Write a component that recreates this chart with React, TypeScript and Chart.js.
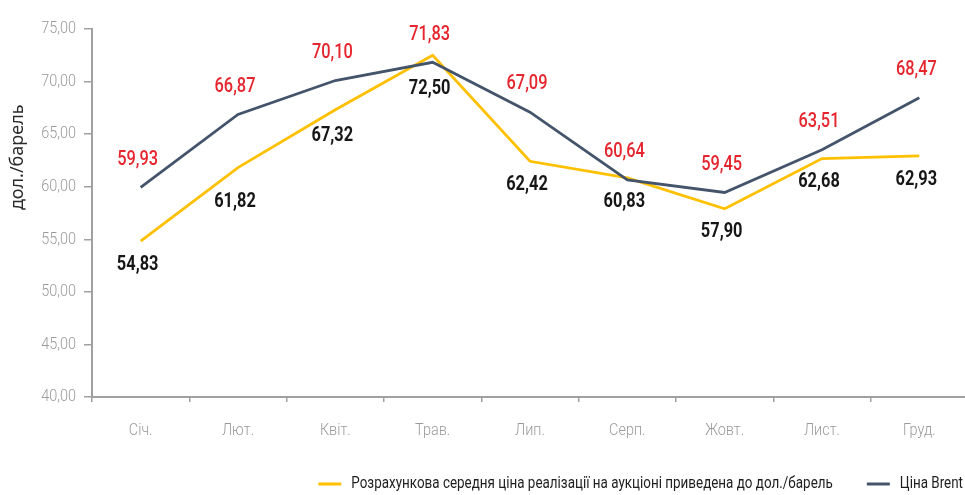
import React, { useEffect, useRef } from "react";
import { Chart, registerables } from "chart.js";

Chart.register(...registerables);

// ---- data ----
const months = ["Січ.", "Лют.", "Квіт.", "Трав.", "Лип.", "Серп.", "Жовт.", "Лист.", "Груд."];
const auctionPrice = [54.83, 61.82, 67.32, 72.5, 62.42, 60.83, 57.9, 62.68, 62.93];
const brentPrice = [59.93, 66.87, 70.1, 71.83, 67.09, 60.64, 59.45, 63.51, 68.47];
const auctionLabel = "Розрахункова середня ціна реалізації на аукціоні приведена до дол./барель";
const brentLabel = "Ціна Brent";
const yTitle = "дол./барель";
const yMin = 40;
const yMax = 75;
const yStep = 5;

// ---- styles ----
const FONT = "Roboto, 'Noto Sans', sans-serif";
const YELLOW = "#FFC000";
const NAVY = "#44546A";
const RED = "#E5262F";
const GRAY = "#A0A0A0";
const TICKTEXT = "#9A9A9A";
const auctionLabelDy = [24, 34, 26, 33, 23, 24, 23, 23, 24];
const brentLabelDy = -28;
const LABEL_SX = 0.78;
const TICK_SX = 0.85;
const LEGEND_SX = 0.79;

const fmt = (v: number) => v.toFixed(2).replace(".", ",");

function drawCond(ctx: CanvasRenderingContext2D, text: string, x: number, y: number, sx: number, align: CanvasTextAlign) {
  ctx.save();
  ctx.translate(x, y);
  ctx.scale(sx, 1);
  ctx.textAlign = align;
  ctx.textBaseline = "middle";
  ctx.fillText(text, 0, 0);
  ctx.restore();
}

const valueLabels = {
  id: "valueLabels",
  afterDatasetsDraw(chart: any) {
    const ctx = chart.ctx as CanvasRenderingContext2D;
    chart.data.datasets.forEach((ds: any, di: number) => {
      const meta = chart.getDatasetMeta(di);
      meta.data.forEach((pt: any, i: number) => {
        const v = ds.data[i] as number;
        if (di === 0) {
          ctx.font = `700 21px ${FONT}`;
          ctx.fillStyle = "#161616";
          drawCond(ctx, fmt(v), pt.x - 3, pt.y + auctionLabelDy[i], LABEL_SX, "center");
        } else {
          ctx.font = `500 21px ${FONT}`;
          ctx.fillStyle = RED;
          drawCond(ctx, fmt(v), pt.x - 3, pt.y + brentLabelDy, LABEL_SX, "center");
        }
      });
    });
  },
};

const axisText = {
  id: "axisText",
  afterDraw(chart: any) {
    const ctx = chart.ctx as CanvasRenderingContext2D;
    const xs = chart.scales.x;
    const ys = chart.scales.y;
    ctx.save();
    ctx.fillStyle = TICKTEXT;
    ctx.font = `300 17px ${FONT}`;
    ys.ticks.forEach((t: any, i: number) => {
      drawCond(ctx, fmt(Number(t.value)), ys.right - 16, ys.getPixelForTick(i), TICK_SX, "right");
    });
    xs.ticks.forEach((t: any, i: number) => {
      drawCond(ctx, String(chart.data.labels[i]), xs.getPixelForTick(i), xs.top + 34, TICK_SX, "center");
    });
    // y title
    ctx.fillStyle = "#2a2a2a";
    ctx.font = `18px 'Noto Sans', sans-serif`;
    ctx.translate(17.5, ys.getPixelForValue(62.8));
    ctx.rotate(-Math.PI / 2);
    ctx.textAlign = "center";
    ctx.textBaseline = "middle";
    ctx.fillText(yTitle, 0, 0);
    ctx.restore();
  },
};

const bottomLegend = {
  id: "bottomLegend",
  afterDraw(chart: any) {
    const ctx = chart.ctx as CanvasRenderingContext2D;
    const area = chart.chartArea;
    ctx.save();
    ctx.font = `400 17px ${FONT}`;
    const lineW = 23;
    const gapLT = 10;
    const gapItems = 34;
    const items = chart.data.datasets.map((ds: any) => ({
      text: ds.label as string,
      color: ds.borderColor as string,
      w: ctx.measureText(ds.label).width * LEGEND_SX,
    }));
    let total = 0;
    items.forEach((it: any, i: number) => {
      total += lineW + gapLT + it.w + (i < items.length - 1 ? gapItems : 0);
    });
    let x = area.right - 5 - total;
    const y = chart.height - 11;
    items.forEach((it: any) => {
      ctx.strokeStyle = it.color;
      ctx.lineWidth = 3;
      ctx.beginPath();
      ctx.moveTo(x, y);
      ctx.lineTo(x + lineW, y);
      ctx.stroke();
      x += lineW + gapLT;
      ctx.fillStyle = "#1e1e1e";
      drawCond(ctx, it.text, x, y, LEGEND_SX, "left");
      x += it.w + gapItems;
    });
    ctx.restore();
  },
};

export default function App() {
  const ref = useRef<HTMLCanvasElement | null>(null);
  useEffect(() => {
    document.body.style.margin = "0";
    document.body.style.overflow = "hidden";
    const canvas = ref.current!;
    const chart = new Chart(canvas, {
      type: "line",
      data: {
        labels: months,
        datasets: [
          {
            label: auctionLabel,
            data: auctionPrice,
            borderColor: YELLOW,
            backgroundColor: YELLOW,
            borderWidth: 2.8,
            pointRadius: 0,
            tension: 0,
            order: 2,
          },
          {
            label: brentLabel,
            data: brentPrice,
            borderColor: NAVY,
            backgroundColor: NAVY,
            borderWidth: 2.8,
            pointRadius: 0,
            tension: 0,
            order: 1,
          },
        ],
      },
      options: {
        responsive: false,
        animation: false,
        layout: { padding: { top: 29, right: 22, bottom: 55, left: 0 } },
        plugins: {
          legend: { display: false },
          tooltip: { enabled: false },
        },
        scales: {
          x: {
            offset: true,
            grid: {
              offset: true,
              drawOnChartArea: false,
              drawTicks: true,
              tickLength: 5,
              color: GRAY,
              lineWidth: 1.5,
            },
            border: { display: true, color: GRAY, width: 2 },
            ticks: { display: false },
            afterFit(scale: any) {
              scale.height = 43;
            },
          },
          y: {
            min: yMin,
            max: yMax,
            grid: {
              drawOnChartArea: false,
              drawTicks: true,
              tickLength: 8,
              color: GRAY,
              lineWidth: 1.5,
            },
            border: { display: true, color: GRAY, width: 2 },
            ticks: { display: false, stepSize: yStep },
            afterFit(scale: any) {
              scale.width = 92;
            },
          },
        },
      },
      plugins: [valueLabels, axisText, bottomLegend],
    });
    return () => chart.destroy();
  }, []);
  return (
    <div style={{ width: 965, height: 495, overflow: "hidden", position: "relative", background: "#fff" }}>
      <canvas ref={ref} width={990} height={495} style={{ display: "block" }} />
    </div>
  );
}
